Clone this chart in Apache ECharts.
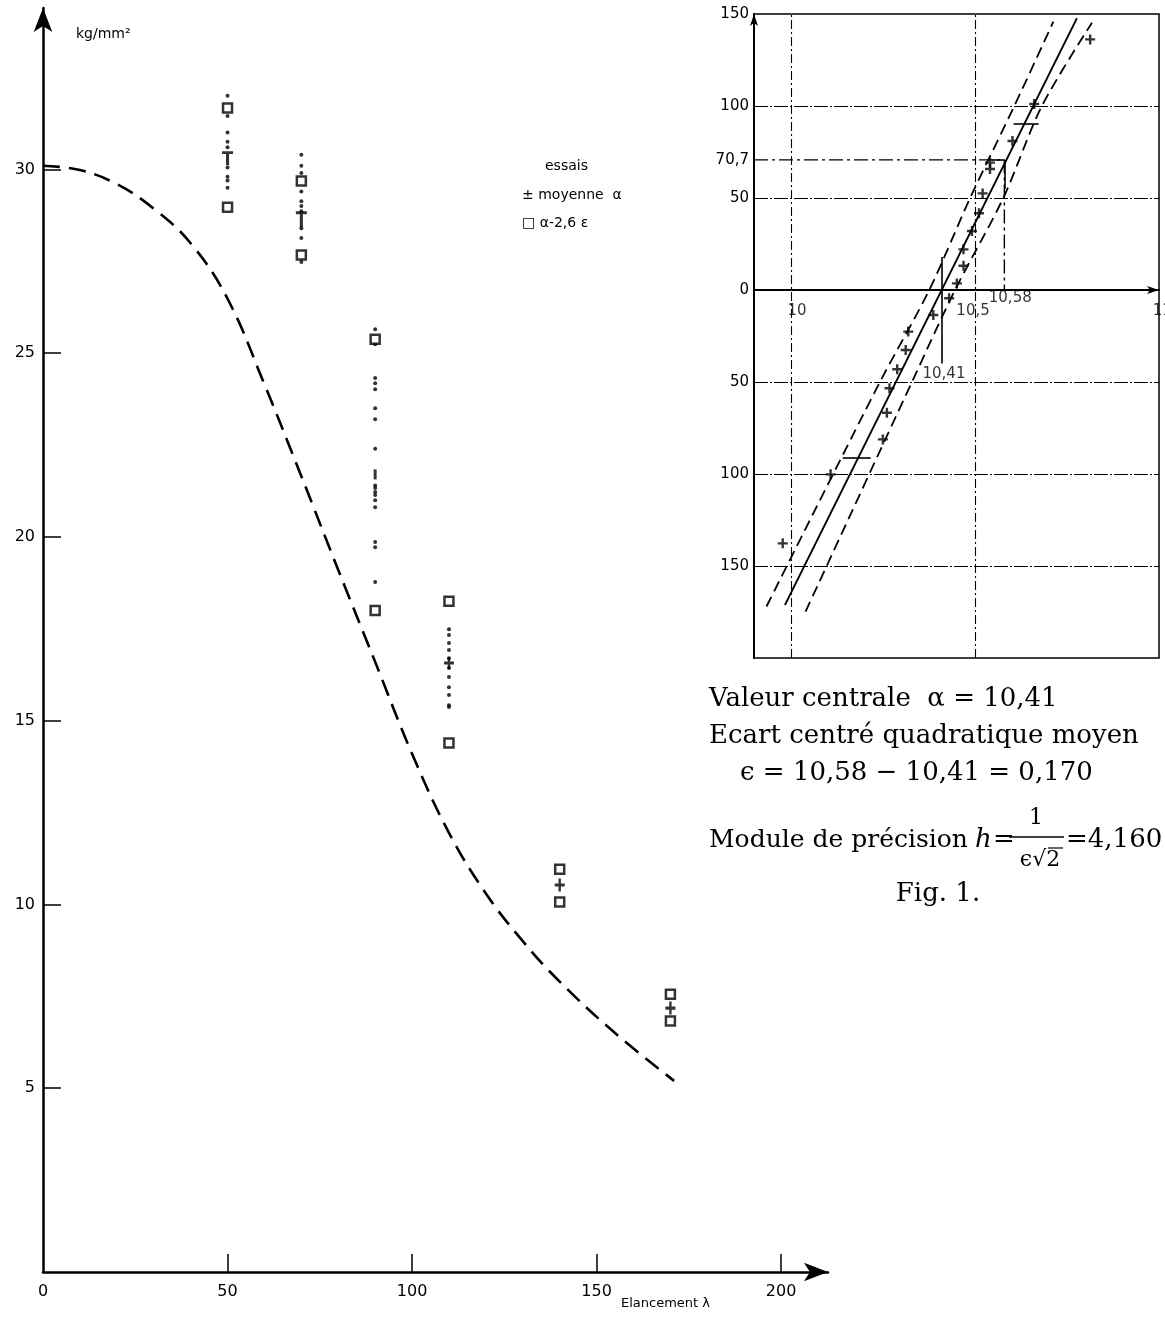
<!DOCTYPE html>
<html>
<head>
<meta charset="UTF-8">
<title>Flambement - essais</title>
<script src="https://cdn.jsdelivr.net/npm/echarts@6/dist/echarts.min.js"></script>
<style>
  html, body { margin: 0; padding: 0; background: #fff; }
  #chart { width: 1165px; height: 1322px; }
</style>
</head>
<body>
<div id="chart"></div>
<script>
// --- courbe de flambement (gauche) ---
var lambdaCourbe = [0, 10, 20, 30, 40, 50, 60, 70, 80, 90, 100, 110, 120, 130, 140, 155, 171];
var sigmaCourbe = [30.1, 29.98, 29.6, 28.93, 27.99, 26.48, 24.15, 21.65, 19.1, 16.6, 14.1, 11.95, 10.3, 9.0, 7.9, 6.5, 5.2];

// essais par élancement
var elancements = [50, 70, 90, 110, 140, 170];
var essais50 = [32.0, 31.45, 31.0, 30.75, 30.6, 30.05, 29.8, 29.7, 29.5];
var essais70 = [30.4, 30.1, 29.9, 29.4, 29.13, 29.0, 28.86, 28.4, 28.13, 27.48];
var essais90 = [25.65, 25.24, 24.32, 24.18, 24.02, 23.5, 23.2, 22.4, 21.4, 21.33, 21.22, 21.14, 21.0, 20.81, 19.86, 19.72, 18.77];
var essais110 = [17.49, 17.33, 17.11, 16.92, 16.7, 16.43, 16.19, 15.91, 15.7, 15.42, 15.37];
var moyennes = [30.3, 28.64, 21.7, 16.57, 10.53, 7.18];
var bornesHaut = [31.67, 29.68, 25.38, 18.25, 10.96, 7.56];
var bornesBas = [28.97, 27.67, 18.0, 14.39, 10.07, 6.83];

var ticksX = [0, 50, 100, 150, 200];
var ticksY = [5, 10, 15, 20, 25, 30];

// --- droite de Henry (droite) ---
var henryX = [10.813, 10.661, 10.602, 10.541, 10.541, 10.521, 10.511, 10.492, 10.469, 10.469, 10.451, 10.43, 10.387, 10.319, 10.312, 10.289, 10.268, 10.261, 10.25, 10.108, 9.978];
var henryY = [136.2, 101.1, 81.0, 69.2, 65.8, 52.5, 41.7, 32.1, 22.1, 13.2, 3.6, -4.5, -13.6, -22.6, -32.6, -43.1, -53.4, -66.7, -81.2, -100.2, -137.7];
var droiteX = [9.984, 10.777];
var droiteY = [-171.2, 147.7];
var bandeGX = [9.934, 10.242, 10.376, 10.487, 10.607, 10.713];
var bandeGY = [-172, -50, 0, 50, 100, 145.8];
var bandeDX = [10.04, 10.329, 10.446, 10.577, 10.682, 10.818];
var bandeDY = [-174.8, -50, 0, 50, 100, 145.3];
var alpha = 10.41;
var alphaPlusEps = 10.58;
var niveauEps = 70.7;
var henryTicksY = [150, 100, 70.7, 50, 0, -50, -100, -150];
var henryGridY = [100, 50, -50, -100, -150];
var henryGridX = [10, 10.5];
var henryTicksX = [10, 10.5, 11];

function zip(a, b) {
    var out = [];
    for (var i = 0; i < a.length; i++) out.push([a[i], b[i]]);
    return out;
}
function virgule(v) {
    return String(Math.abs(v)).replace('.', ',');
}

var listesEssais = [essais50, essais70, essais90, essais110, [], []];
var points = [];
listesEssais.forEach(function (liste, i) {
    liste.forEach(function (v) { points.push([elancements[i], v]); });
});

// étiquettes de l'axe x de Henry, posées juste sous la ligne 0
var decalX = [0.017, -0.005, 0.009];
var notesX = henryTicksX.map(function (v, i) {
    return { name: virgule(v), value: [v + decalX[i], -11.5] };
});

var plus = 'path://M3.8,0H6.2V3.8H10V6.2H6.2V10H3.8V6.2H0V3.8H3.8Z';
var te = 'path://M0,0H10V2.6H6.4V14H3.6V2.6H0Z';
var barre = 'path://M0,0H3V10H0Z';
var formesMoyenne = [te, te, barre, plus, plus, plus];
var taillesMoyenne = [[11, 14], [11, 16], [3, 10], [10, 12], [10, 13], [10, 13]];
var sans = 'DejaVu Sans';

var segLine = function (a, b) { return [{ coord: a }, { coord: b }]; };

var myChart = echarts.init(document.getElementById('chart'));
var option = {
    animation: false,
    backgroundColor: '#fff',
    grid: [
        { left: 43, top: 8, width: 785, height: 1264 },
        { left: 754, top: 14, width: 405, height: 644, show: true, borderColor: '#000', borderWidth: 1.5, backgroundColor: 'transparent' }
    ],
    xAxis: [
        {
            gridIndex: 0, type: 'value', min: 0, max: 212.7,
            axisLine: { lineStyle: { color: '#000', width: 2.5 }, symbol: ['none', 'arrow'], symbolSize: [14, 24] },
            axisTick: { inside: true, length: 18, lineStyle: { color: '#000', width: 1.5 }, customValues: [50, 100, 150, 200] },
            axisLabel: { customValues: ticksX, color: '#000', fontFamily: sans, fontSize: 16, margin: 12 },
            splitLine: { show: false }
        },
        {
            gridIndex: 1, type: 'value', min: 9.9, max: 11,
            axisLine: { onZero: true, lineStyle: { color: '#000', width: 2 }, symbol: ['none', 'arrow'], symbolSize: [6, 12] },
            axisTick: { show: false },
            axisLabel: { show: false },
            splitLine: { show: false }
        }
    ],
    yAxis: [
        {
            gridIndex: 0, type: 'value', min: 0, max: 34.39,
            axisLine: { lineStyle: { color: '#000', width: 2.5 }, symbol: ['none', 'arrow'], symbolSize: [14, 24] },
            axisTick: { inside: true, length: 18, lineStyle: { color: '#000', width: 1.5 }, customValues: ticksY },
            axisLabel: { customValues: ticksY, color: '#000', fontFamily: sans, fontSize: 16, margin: 8 },
            splitLine: { show: false }
        },
        {
            gridIndex: 1, type: 'value', min: -200, max: 150,
            axisLine: { onZero: false, lineStyle: { color: '#000', width: 2 }, symbol: ['none', 'arrow'], symbolSize: [6, 12] },
            axisTick: { show: false },
            axisLabel: { customValues: henryTicksY, formatter: virgule, color: '#000', fontFamily: sans, fontSize: 15, margin: 5 },
            splitLine: { show: false }
        }
    ],
    series: [
        {
            name: 'courbe', type: 'line', xAxisIndex: 0, yAxisIndex: 0,
            data: zip(lambdaCourbe, sigmaCourbe), smooth: 0.4, showSymbol: false,
            lineStyle: { color: '#000', width: 2.6, type: [17, 9] }
        },
        {
            name: 'essais', type: 'scatter', xAxisIndex: 0, yAxisIndex: 0,
            data: points, symbol: 'circle', symbolSize: 4, itemStyle: { color: '#000' }
        },
        {
            name: 'bornes', type: 'scatter', xAxisIndex: 0, yAxisIndex: 0,
            data: zip(elancements, bornesHaut).concat(zip(elancements, bornesBas)),
            symbol: 'rect', symbolSize: 9, itemStyle: { color: '#fff', borderColor: '#000', borderWidth: 2.5 }
        },
        {
            name: 'moyenne', type: 'scatter', xAxisIndex: 0, yAxisIndex: 0,
            data: zip(elancements, moyennes).map(function (p, i) {
                return { value: p, symbol: formesMoyenne[i], symbolSize: taillesMoyenne[i] };
            }),
            itemStyle: { color: '#000' }
        },
        // droite de Henry
        {
            name: 'droite', type: 'line', xAxisIndex: 1, yAxisIndex: 1,
            data: zip(droiteX, droiteY), showSymbol: false,
            lineStyle: { color: '#000', width: 1.8 },
            markLine: {
                silent: true, symbol: 'none', label: { show: false },
                lineStyle: { color: '#000', width: 1.1, type: [14, 2, 2, 2] },
                data: henryGridY.map(function (v) { return { yAxis: v }; })
                    .concat(henryGridX.map(function (v) { return { xAxis: v, lineStyle: { type: [9, 3, 2, 3] } }; }))
            }
        },
        {
            name: 'bande gauche', type: 'line', xAxisIndex: 1, yAxisIndex: 1,
            data: zip(bandeGX, bandeGY), smooth: 0.3, showSymbol: false,
            lineStyle: { color: '#000', width: 1.8, type: [11, 6] }
        },
        {
            name: 'bande droite', type: 'line', xAxisIndex: 1, yAxisIndex: 1,
            data: zip(bandeDX, bandeDY), smooth: 0.3, showSymbol: false,
            lineStyle: { color: '#000', width: 1.8, type: [11, 6] }
        },
        {
            name: 'ecart', type: 'line', xAxisIndex: 1, yAxisIndex: 1,
            data: [[9.9, niveauEps], [alphaPlusEps, niveauEps], [alphaPlusEps, 0]], showSymbol: false,
            lineStyle: { color: '#000', width: 1.4, type: [14, 4, 3, 4] },
            markLine: {
                silent: true, symbol: 'none', label: { show: false },
                lineStyle: { color: '#000', width: 1.6, type: 'solid' },
                data: [
                    segLine([alpha, 18], [alpha, -40]),
                    segLine([10.545, niveauEps], [alphaPlusEps, niveauEps]),
                    segLine([alphaPlusEps, niveauEps], [alphaPlusEps, 55]),
                    segLine([10.605, 90.2], [10.673, 90.2]),
                    segLine([10.141, -91.1], [10.217, -91.1])
                ]
            }
        },
        {
            name: 'essais henry', type: 'scatter', xAxisIndex: 1, yAxisIndex: 1,
            data: zip(henryX, henryY), symbol: plus, symbolSize: 10, itemStyle: { color: '#000' }
        },
        {
            name: 'notes', type: 'scatter', xAxisIndex: 1, yAxisIndex: 1, symbolSize: 0, clip: false,
            data: [
                { name: virgule(alphaPlusEps), value: [10.596, -4.3] },
                { name: virgule(alpha), value: [10.416, -45.6] }
            ].concat(notesX),
            label: { show: true, position: 'inside', formatter: '{b}', color: '#000', fontFamily: sans, fontSize: 15 }
        }
    ],
    graphic: [
        { type: 'text', left: 76, top: 27, style: { text: 'kg/mm²', font: '14px "DejaVu Sans"', fill: '#000' } },
        { type: 'text', left: 621, top: 1297, style: { text: 'Elancement λ', font: '13px "DejaVu Sans"', fill: '#000' } },
        { type: 'text', left: 545, top: 159, style: { text: 'essais', font: '14px "DejaVu Sans"', fill: '#000' } },
        { type: 'text', left: 522, top: 188, style: { text: '± moyenne  α', font: '14px "DejaVu Sans"', fill: '#000' } },
        { type: 'text', left: 522, top: 216, style: { text: '□ α-2,6 ε', font: '14px "DejaVu Sans"', fill: '#000' } },

        { type: 'text', x: 709, y: 699, style: { text: 'Valeur centrale  α = 10,41', font: '26px "DejaVu Serif"', fill: '#000', verticalAlign: 'middle' } },
        { type: 'text', x: 709, y: 736, style: { text: 'Ecart centré quadratique moyen', font: '26px "DejaVu Serif"', fill: '#000', verticalAlign: 'middle' } },
        { type: 'text', x: 740, y: 773, style: { text: 'ϵ = 10,58 − 10,41 = 0,170', font: '26px "DejaVu Serif"', fill: '#000', verticalAlign: 'middle' } },
        { type: 'text', x: 709, y: 840, style: { text: 'Module de précision', font: '25px "DejaVu Serif"', fill: '#000', verticalAlign: 'middle' } },
        { type: 'text', x: 975, y: 840, style: { text: 'h', font: 'italic 26px "DejaVu Serif"', fill: '#000', verticalAlign: 'middle' } },
        { type: 'text', x: 993, y: 840, style: { text: '=', font: '26px "DejaVu Serif"', fill: '#000', verticalAlign: 'middle' } },
        { type: 'text', x: 1036, y: 818, style: { text: '1', font: '22px "DejaVu Serif"', fill: '#000', align: 'center', verticalAlign: 'middle' } },
        { type: 'line', shape: { x1: 1009, y1: 837, x2: 1064, y2: 837 }, style: { stroke: '#000', lineWidth: 1.3 } },
        { type: 'text', x: 1040, y: 860, style: { text: 'ϵ√2', font: '22px "DejaVu Serif"', fill: '#000', align: 'center', verticalAlign: 'middle' } },
        { type: 'line', shape: { x1: 1048, y1: 848, x2: 1063, y2: 848 }, style: { stroke: '#000', lineWidth: 1.2 } },
        { type: 'text', x: 1066, y: 840, style: { text: '=4,160', font: '26px "DejaVu Serif"', fill: '#000', verticalAlign: 'middle' } },
        { type: 'text', x: 938, y: 894, style: { text: 'Fig. 1.', font: '26px "DejaVu Serif"', fill: '#000', align: 'center', verticalAlign: 'middle' } }
    ]
};
myChart.setOption(option);
</script>
</body>
</html>
